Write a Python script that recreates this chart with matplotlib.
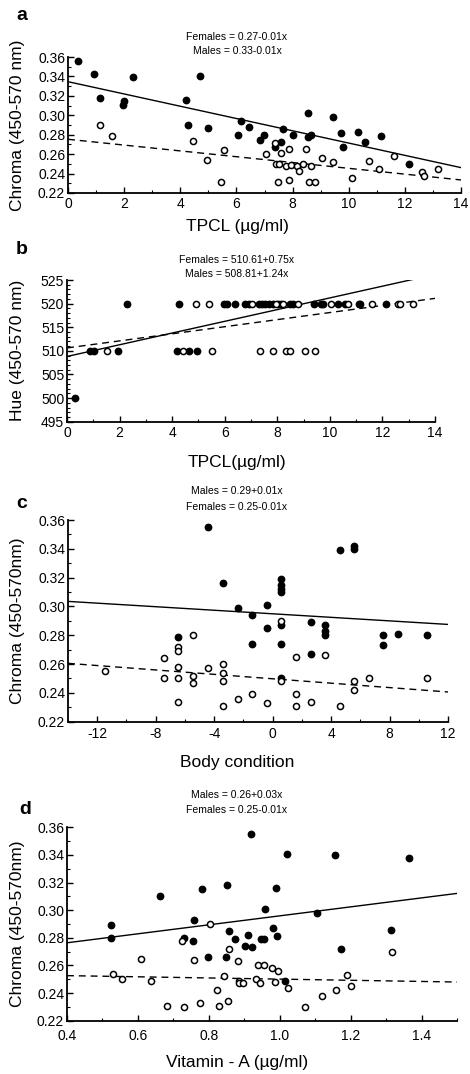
import matplotlib
matplotlib.use("Agg")
import matplotlib.pyplot as plt
from matplotlib.ticker import MultipleLocator
import numpy as np

plt.rcParams["font.family"] = ["Liberation Sans", "DejaVu Sans"]
plt.rcParams["axes.unicode_minus"] = False

# ---------------- panel a: chroma vs TPCL ----------------
a_male_x = [0.37, 0.93, 1.13, 2.01, 1.97, 2.33, 4.69, 4.22, 4.28, 4.99, 6.15, 6.05, 6.44,
            6.84, 6.97, 7.36, 7.59, 7.65, 8.00, 8.54, 8.54, 8.66, 9.44, 9.71, 9.80, 10.34,
            10.58, 11.15, 12.16]
a_male_y = [0.356, 0.342, 0.318, 0.315, 0.311, 0.339, 0.340, 0.316, 0.290, 0.287, 0.294,
            0.280, 0.288, 0.275, 0.280, 0.267, 0.273, 0.286, 0.280, 0.302, 0.278, 0.280,
            0.298, 0.282, 0.267, 0.283, 0.272, 0.279, 0.250]
a_fem_x = [1.13, 1.57, 4.47, 4.96, 5.56, 5.46, 7.05, 7.38, 7.42, 7.52, 7.59, 7.49, 7.89,
           7.77, 7.93, 7.86, 8.15, 8.22, 8.38, 8.47, 8.66, 8.59, 8.79, 9.06, 9.44, 10.13,
           10.71, 11.07, 11.60, 12.61, 12.68, 13.19]
a_fem_y = [0.290, 0.279, 0.274, 0.254, 0.264, 0.231, 0.260, 0.271, 0.250, 0.250, 0.261,
           0.231, 0.265, 0.248, 0.249, 0.233, 0.248, 0.243, 0.250, 0.265, 0.248, 0.231,
           0.231, 0.256, 0.252, 0.235, 0.253, 0.245, 0.258, 0.242, 0.238, 0.245]
a_fit_male = (0.3346, -0.00632)
a_fit_fem = (0.2753, -0.00299)

# ---------------- panel b: hue vs TPCL ----------------
b_male_x = [0.29, 0.87, 1.04, 1.95, 2.27, 4.18, 4.25, 4.66, 4.93, 5.97, 6.07, 6.39, 6.78,
            6.91, 7.31, 7.43, 7.55, 7.68, 7.84, 8.03, 8.14, 8.48, 8.61, 9.41, 9.68, 9.75,
            10.32, 10.57, 11.10, 11.14, 12.15]
b_male_y = [500, 510, 510, 510, 520, 510, 520, 510, 510, 520, 520, 520, 520,
            520, 520, 520, 520, 520, 520, 520, 520, 520, 520, 520, 520, 520,
            520, 520, 520, 520, 520]
b_fem_x = [1.52, 4.42, 5.53, 7.35, 7.84, 8.33, 8.47, 9.05, 9.43,
           4.90, 5.41, 7.02, 7.97, 8.20, 8.80, 10.06, 10.70, 11.59, 12.60, 12.66, 13.17]
b_fem_y = [510, 510, 510, 510, 510, 510, 510, 510, 510,
           520, 520, 520, 520, 520, 520, 520, 520, 520, 520, 520, 520]
b_fit_male = (508.81, 1.24)
b_fit_fem = (510.61, 0.75)

# ---------------- panel c: chroma vs body condition ----------------
c_male_x = [-4.42, -3.40, -6.45, -2.40, -1.42, -1.42, -0.40, -0.37, 0.58, 0.58, 0.58, 0.58,
            0.58, 0.58, 0.58, 2.61, 2.61, 3.61, 3.61, 3.61, 4.61, 5.56, 5.56, 7.52, 7.52,
            8.55, 10.57]
c_male_y = [0.355, 0.316, 0.279, 0.299, 0.294, 0.274, 0.301, 0.285, 0.319, 0.315, 0.312,
            0.310, 0.287, 0.274, 0.250, 0.289, 0.267, 0.287, 0.283, 0.280, 0.339, 0.342,
            0.340, 0.280, 0.273, 0.281, 0.280]
c_fem_x = [-11.45, -7.43, -7.43, -6.45, -6.45, -6.45, -6.45, -6.45, -5.43, -5.43, -5.43,
           -4.42, -3.40, -3.40, -3.40, -3.40, -2.40, -1.42, -0.40, 0.58, 0.58, 1.58, 1.58,
           1.58, 2.61, 3.61, 4.61, 5.56, 5.56, 6.57, 10.57]
c_fem_y = [0.255, 0.264, 0.250, 0.272, 0.269, 0.258, 0.250, 0.234, 0.280, 0.252, 0.247,
           0.257, 0.260, 0.254, 0.248, 0.231, 0.236, 0.239, 0.233, 0.290, 0.248, 0.265,
           0.239, 0.231, 0.234, 0.266, 0.231, 0.248, 0.242, 0.250, 0.250]
c_fit_male = (0.2949, -0.000615)
c_fit_fem = (0.2498, -0.000765)

# ---------------- panel d: chroma vs vitamin A ----------------
d_male_x = [0.523, 0.523, 0.663, 0.731, 0.754, 0.758, 0.782, 0.799, 0.848, 0.852, 0.857,
            0.874, 0.902, 0.910, 0.918, 0.923, 0.947, 0.955, 0.958, 0.982, 0.990, 0.993,
            1.016, 1.020, 1.105, 1.155, 1.172, 1.313, 1.366]
d_male_y = [0.289, 0.280, 0.310, 0.280, 0.278, 0.293, 0.315, 0.266, 0.266, 0.318, 0.285,
            0.279, 0.274, 0.282, 0.355, 0.273, 0.279, 0.279, 0.301, 0.287, 0.316, 0.281,
            0.249, 0.341, 0.298, 0.340, 0.272, 0.286, 0.338]
d_fem_x = [0.530, 0.554, 0.609, 0.638, 0.681, 0.724, 0.730, 0.758, 0.774, 0.804, 0.824,
           0.828, 0.844, 0.854, 0.857, 0.881, 0.886, 0.885, 0.897, 0.940, 0.955, 0.934,
           0.944, 0.979, 0.995, 0.988, 1.024, 1.072, 1.119, 1.158, 1.189, 1.200, 1.317]
d_fem_y = [0.254, 0.250, 0.265, 0.249, 0.231, 0.278, 0.230, 0.264, 0.233, 0.290, 0.242,
           0.231, 0.252, 0.234, 0.272, 0.263, 0.249, 0.247, 0.247, 0.260, 0.260, 0.250,
           0.247, 0.258, 0.256, 0.248, 0.244, 0.230, 0.238, 0.242, 0.253, 0.245, 0.270]
d_fit_male = (0.2634, 0.0325)
d_fit_fem = (0.2543, -0.0042)

W, H = 470, 1074


def make_axes(fig, left, top, right, bottom):
    return fig.add_axes([left / W, 1 - bottom / H, (right - left) / W, (bottom - top) / H])


def style(ax, xpad=2):
    for s in ("top", "right"):
        ax.spines[s].set_visible(False)
    for s in ("left", "bottom"):
        ax.spines[s].set_linewidth(1.3)
    ax.tick_params(which="major", direction="in", length=4, width=1, labelsize=10, pad=2)
    ax.tick_params(which="minor", direction="in", length=2, width=0.8)
    ax.tick_params(axis="x", which="major", pad=xpad)


def draw(ax, mx, my, fx, fy, fit_m, fit_f, xlim):
    xs = np.array(xlim)
    ax.plot(xs, fit_m[0] + fit_m[1] * xs, color="black", lw=1.0, zorder=2)
    ax.plot(xs, fit_f[0] + fit_f[1] * xs, color="black", lw=1.0, ls=(0, (5, 3.5)), zorder=2)
    ax.plot(mx, my, "o", ms=4.6, mfc="black", mec="black", ls="none", zorder=3, clip_on=False)
    ax.plot(fx, fy, "o", ms=4.4, mfc="white", mec="black", mew=1.1, ls="none", zorder=4,
            clip_on=False)
    ax.set_xlim(*xlim)


def chroma_y(ax):
    ticks = np.arange(0.22, 0.361, 0.02)
    ax.set_ylim(0.22, 0.36)
    ax.set_yticks(ticks)
    ax.set_yticklabels([f"{v:.2f}" for v in ticks])
    ax.yaxis.set_minor_locator(MultipleLocator(0.01))


fig = plt.figure(figsize=(W / 100, H / 100), dpi=100)

# panel a
ax = make_axes(fig, 68, 57, 461, 193)
draw(ax, a_male_x, a_male_y, a_fem_x, a_fem_y, a_fit_male, a_fit_fem, (0, 14))
chroma_y(ax)
ax.set_xticks(np.arange(0, 15, 2))
ax.xaxis.set_minor_locator(MultipleLocator(1))
style(ax, xpad=3)
fig.text(22 / W, 1 - 15 / H, "a", fontsize=14, fontweight="bold", ha="center", va="center")
fig.text(237 / W, 1 - 37 / H, "Females = 0.27-0.01x", fontsize=7.5, ha="center", va="center")
fig.text(237 / W, 1 - 51 / H, "Males = 0.33-0.01x", fontsize=7.5, ha="center", va="center")
fig.text(237 / W, 1 - 227 / H, "TPCL (µg/ml)", fontsize=12.5, ha="center", va="center")
fig.text(18 / W, 1 - 125 / H, "Chroma (450-570 nm)", fontsize=12.5, ha="center",
         va="center", rotation=90)

# panel b
ax = make_axes(fig, 67, 280, 435, 421.7)
draw(ax, b_male_x, b_male_y, b_fem_x, b_fem_y, b_fit_male, b_fit_fem, (0, 14))
ax.set_ylim(495, 525)
ax.set_xticks(np.arange(0, 15, 2))
ax.xaxis.set_minor_locator(MultipleLocator(1))
ax.set_yticks(np.arange(495, 526, 5))
ax.yaxis.set_minor_locator(MultipleLocator(1))
style(ax, xpad=3)
fig.text(22 / W, 1 - 250 / H, "b", fontsize=14, fontweight="bold", ha="center", va="center")
fig.text(237 / W, 1 - 260 / H, "Females = 510.61+0.75x", fontsize=7.5, ha="center", va="center")
fig.text(237 / W, 1 - 274 / H, "Males = 508.81+1.24x", fontsize=7.5, ha="center", va="center")
fig.text(237 / W, 1 - 462 / H, "TPCL(µg/ml)", fontsize=12.5, ha="center", va="center")
fig.text(18 / W, 1 - 350 / H, "Hue (450-570 nm)", fontsize=12.5, ha="center",
         va="center", rotation=90)

# panel c
ax = make_axes(fig, 68, 520, 448, 721.7)
draw(ax, c_male_x, c_male_y, c_fem_x, c_fem_y, c_fit_male, c_fit_fem, (-14, 12))
chroma_y(ax)
ax.set_xticks(np.arange(-12, 13, 4))
ax.xaxis.set_minor_locator(MultipleLocator(2))
style(ax, xpad=4)
fig.text(22 / W, 1 - 503 / H, "c", fontsize=14, fontweight="bold", ha="center", va="center")
fig.text(237 / W, 1 - 491 / H, "Males = 0.29+0.01x", fontsize=7.5, ha="center", va="center")
fig.text(237 / W, 1 - 507 / H, "Females = 0.25-0.01x", fontsize=7.5, ha="center", va="center")
fig.text(237 / W, 1 - 762 / H, "Body condition", fontsize=12.5, ha="center", va="center")
fig.text(18 / W, 1 - 621 / H, "Chroma (450-570nm)", fontsize=12.5, ha="center",
         va="center", rotation=90)

# panel d
ax = make_axes(fig, 67, 827.3, 457, 1020.7)
draw(ax, d_male_x, d_male_y, d_fem_x, d_fem_y, d_fit_male, d_fit_fem, (0.4, 1.5))
chroma_y(ax)
xt = np.arange(0.4, 1.41, 0.2)
ax.set_xticks(xt)
ax.set_xticklabels([f"{v:.1f}" for v in xt])
ax.xaxis.set_minor_locator(MultipleLocator(0.1))
style(ax, xpad=6)
fig.text(25 / W, 1 - 810 / H, "d", fontsize=14, fontweight="bold", ha="center", va="center")
fig.text(237 / W, 1 - 795 / H, "Males = 0.26+0.03x", fontsize=7.5, ha="center", va="center")
fig.text(237 / W, 1 - 810 / H, "Females = 0.25-0.01x", fontsize=7.5, ha="center", va="center")
fig.text(237 / W, 1 - 1063 / H, "Vitamin - A (µg/ml)", fontsize=12.5, ha="center", va="center")
fig.text(18 / W, 1 - 924 / H, "Chroma (450-570nm)", fontsize=12.5, ha="center",
         va="center", rotation=90)

fig.savefig("out.png", dpi=100)
